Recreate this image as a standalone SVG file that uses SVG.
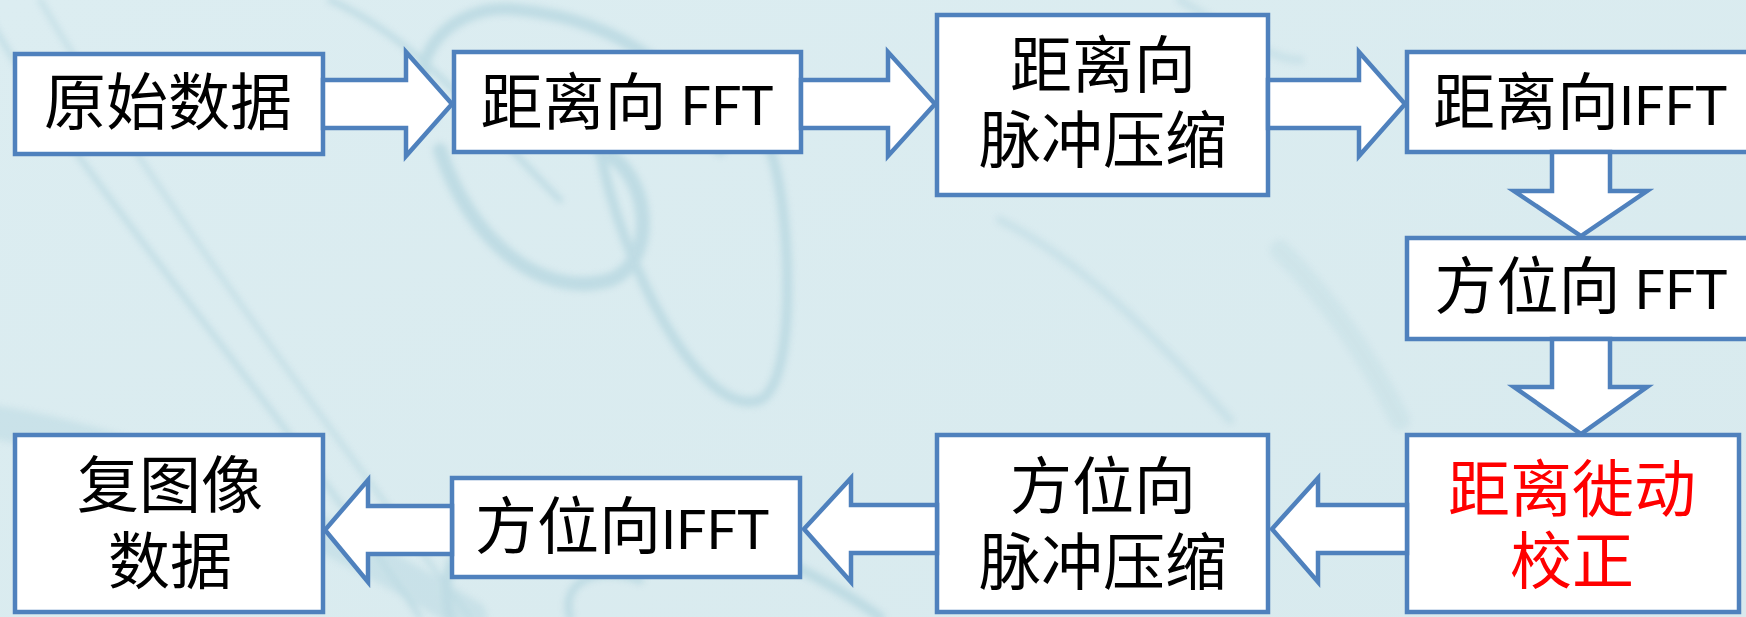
<svg xmlns="http://www.w3.org/2000/svg" width="1746" height="617" viewBox="0 0 1746 617">
<style>
.box{fill:#ffffff;stroke:#4f81bd;stroke-width:4.5;stroke-linejoin:miter}
.arr{fill:#ffffff;stroke:#4f81bd;stroke-width:4.5;stroke-linejoin:miter}
.t{font-family:"Noto Sans CJK SC","Noto Sans CJK JP",sans-serif;font-size:62px;fill:#000000;text-anchor:middle}
.red{fill:#ff0000}
.lat{font-family:Lato,"Liberation Sans",sans-serif;font-size:54px}
.sw{fill:none;stroke:#a9cfda;stroke-linecap:round}
</style>
<defs>
<linearGradient id="bg" x1="0" y1="0" x2="1" y2="1">
<stop offset="0" stop-color="#dcedf1"/>
<stop offset="1" stop-color="#d8eaee"/>
</linearGradient>
<filter id="soft" x="-5%" y="-5%" width="110%" height="110%"><feGaussianBlur stdDeviation="3"/></filter>
</defs>
<rect x="0" y="0" width="1746" height="617" fill="url(#bg)"/>
<g id="background" filter="url(#soft)" opacity="0.55">
<path class="sw" stroke-width="5" d="M -10 20 C 80 180, 260 380, 420 617"/>
<path class="sw" stroke-width="4" d="M 40 0 C 140 170, 300 390, 470 617"/>
<path class="sw" stroke-width="34" opacity="0.6" d="M -20 420 C 120 440, 280 500, 470 617"/>
<path class="sw" stroke-width="14" d="M 440 150 C 470 240, 540 300, 610 280 C 660 260, 650 170, 600 150"/>
<path class="sw" stroke-width="10" d="M 600 150 C 620 260, 700 420, 760 400 C 800 380, 790 200, 770 150"/>
<path class="sw" stroke-width="12" d="M 430 120 C 400 60, 450 0, 520 10 C 620 20, 700 80, 720 150"/>
<path class="sw" stroke-width="10" d="M 450 617 C 430 540, 500 500, 580 505 C 680 510, 800 560, 880 617"/>
<path class="sw" stroke-width="8" d="M 570 617 C 560 580, 600 565, 640 580"/>
<path class="sw" stroke-width="6" d="M 330 0 C 420 40, 480 120, 560 200"/>
<path class="sw" stroke-width="8" opacity="0.6" d="M 1000 220 C 1080 260, 1150 330, 1230 420"/>
<path class="sw" stroke-width="8" opacity="0.6" d="M 1180 0 C 1230 30, 1270 60, 1300 60"/>
<path class="sw" stroke-width="20" opacity="0.4" d="M 1280 250 C 1330 300, 1370 360, 1400 420"/>
</g>
<g id="nodes">
<g id="n1"><rect class="box" x="15" y="54" width="308" height="100"/><text class="t" x="168" y="125">原始数据</text></g>
<g id="n2"><rect class="box" x="454" y="52" width="347" height="100"/><text class="t" x="627" y="125">距离向 <tspan class="lat">FFT</tspan></text></g>
<g id="n3"><rect class="box" x="937" y="15" width="331" height="180"/><text class="t" x="1103" y="88">距离向<tspan x="1103" dy="75">脉冲压缩</tspan></text></g>
<g id="n4"><rect class="box" x="1407" y="52" width="360" height="100"/><text class="t" x="1580" y="125">距离向<tspan class="lat">IFFT</tspan></text></g>
<g id="n5"><rect class="box" x="1407" y="238" width="360" height="101"/><text class="t" x="1581" y="309">方位向 <tspan class="lat">FFT</tspan></text></g>
<g id="n6"><rect class="box" x="1407" y="435" width="332" height="177"/><text class="t red" x="1572" y="512">距离徙动<tspan x="1572" dy="72">校正</tspan></text></g>
<g id="n7"><rect class="box" x="937" y="435" width="331" height="177"/><text class="t" x="1103" y="509">方位向<tspan x="1103" dy="76">脉冲压缩</tspan></text></g>
<g id="n8"><rect class="box" x="452" y="478" width="348" height="99"/><text class="t" x="622" y="549">方位向<tspan class="lat">IFFT</tspan></text></g>
<g id="n9"><rect class="box" x="15" y="435" width="308" height="177"/><text class="t" x="170" y="508">复图像<tspan x="170" dy="76">数据</tspan></text></g>
</g>
<g id="connectors">
<polygon class="arr" points="323,80 406,80 406,52 452,104 406,156 406,128 323,128"/>
<polygon class="arr" points="801,80 888,80 888,52 935,104 888,156 888,128 801,128"/>
<polygon class="arr" points="1268,80 1359,80 1359,52 1405,104 1359,156 1359,128 1268,128"/>
<polygon class="arr" points="1552,152 1552,191 1514,191 1581,236 1647,191 1610,191 1610,152"/>
<polygon class="arr" points="1552,339 1552,387 1514,387 1581,434 1647,387 1610,387 1610,339"/>
<polygon class="arr" points="1407,505 1318,505 1318,478 1272,529 1318,582 1318,553 1407,553"/>
<polygon class="arr" points="937,505 851,505 851,478 804,529 851,582 851,553 937,553"/>
<polygon class="arr" points="452,506 368,506 368,480 325,530 368,582 368,554 452,554"/>
</g>
</svg>
